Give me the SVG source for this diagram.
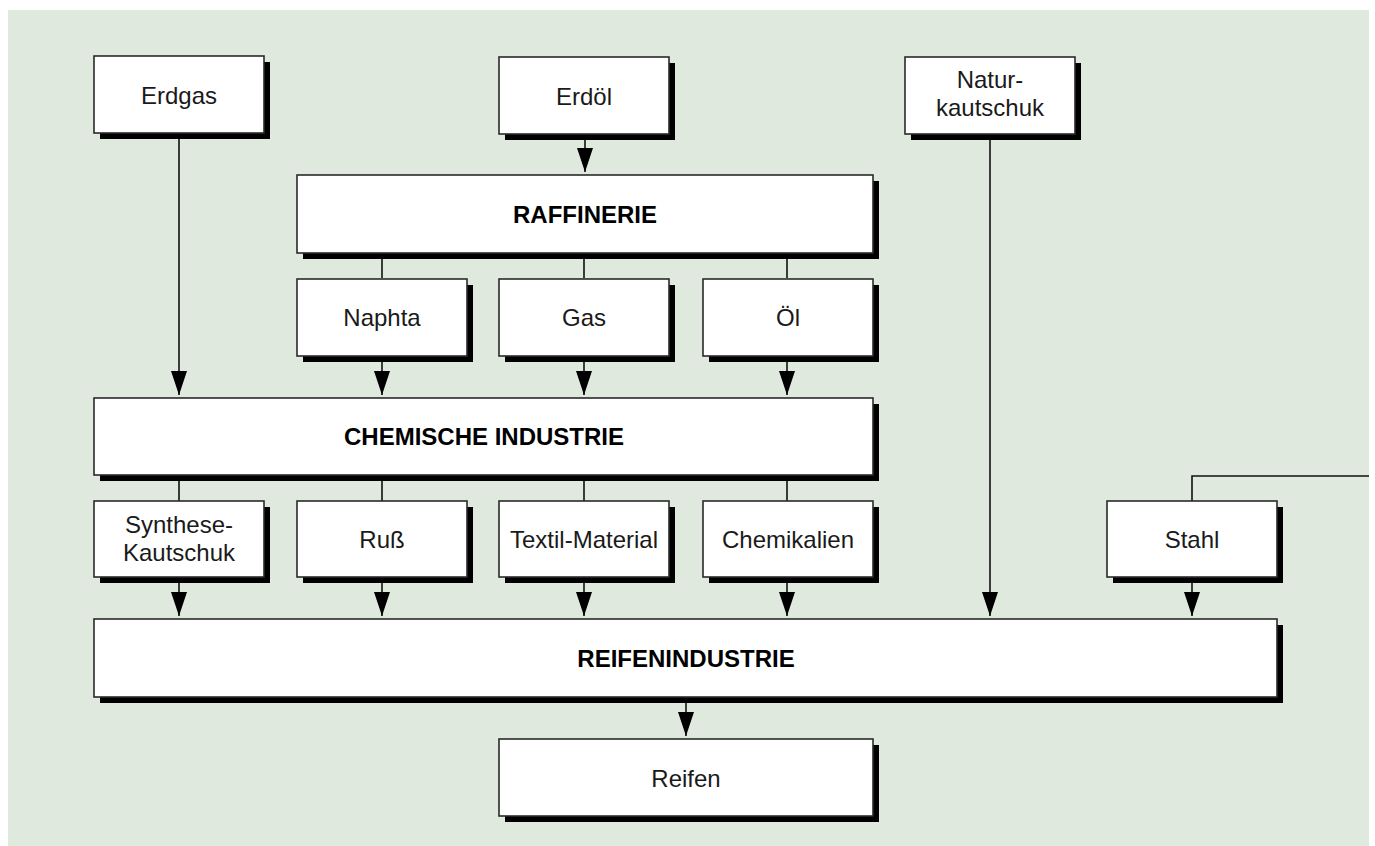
<svg xmlns="http://www.w3.org/2000/svg" width="1375" height="846" viewBox="0 0 1375 846">
<defs>
<style>
.shadow{fill:#000}
.box{fill:#fff;stroke:#2a2a2a;stroke-width:1.6}
.lbl{font-family:"Liberation Sans",Arial,sans-serif;font-size:24px;fill:#1a1a1a;text-anchor:middle}
.bold{font-weight:bold;fill:#000}
.con{fill:none;stroke:#111;stroke-width:1.6}
</style>
<marker id="arr" viewBox="0 0 24 16" refX="24" refY="8" markerWidth="24" markerHeight="16" markerUnits="userSpaceOnUse" orient="auto">
<path d="M0,0 L24,8 L0,16 Z" fill="#000"/>
</marker>
</defs>
<rect x="0" y="0" width="1375" height="846" fill="#fff"/>
<rect x="8" y="10" width="1361" height="836" fill="#dfe9de"/>

<g id="connectors">
<path class="con" d="M179,139 V395" marker-end="url(#arr)"/>
<path class="con" d="M585,139 V172" marker-end="url(#arr)"/>
<path class="con" d="M990,139 V616" marker-end="url(#arr)"/>
<path class="con" d="M382,259 V278 M584,259 V278 M787,259 V278"/>
<path class="con" d="M382,362 V395" marker-end="url(#arr)"/>
<path class="con" d="M584,362 V395" marker-end="url(#arr)"/>
<path class="con" d="M787,362 V395" marker-end="url(#arr)"/>
<path class="con" d="M179,481 V501 M382,481 V501 M584,481 V501 M787,481 V501"/>
<path class="con" d="M179,583 V616" marker-end="url(#arr)"/>
<path class="con" d="M382,583 V616" marker-end="url(#arr)"/>
<path class="con" d="M584,583 V616" marker-end="url(#arr)"/>
<path class="con" d="M787,583 V616" marker-end="url(#arr)"/>
<path class="con" d="M1192,583 V616" marker-end="url(#arr)"/>
<path class="con" d="M1369,476 H1192 V501"/>
<path class="con" d="M686,703 V736" marker-end="url(#arr)"/>
</g>

<g id="erdgas">
<rect class="shadow" x="100" y="62" width="170" height="77"/>
<rect class="box" x="94" y="56" width="170" height="77"/>
<text class="lbl" x="179" y="104">Erdgas</text>
</g>
<g id="erdoel">
<rect class="shadow" x="505" y="63" width="170" height="77"/>
<rect class="box" x="499" y="57" width="170" height="77"/>
<text class="lbl" x="584" y="105">Erdöl</text>
</g>
<g id="naturkautschuk">
<rect class="shadow" x="911" y="63" width="170" height="77"/>
<rect class="box" x="905" y="57" width="170" height="77"/>
<text class="lbl" x="990" y="88">Natur-</text>
<text class="lbl" x="990" y="116">kautschuk</text>
</g>
<g id="raffinerie">
<rect class="shadow" x="303" y="181" width="576" height="78"/>
<rect class="box" x="297" y="175" width="576" height="78"/>
<text class="lbl bold" x="585" y="223">RAFFINERIE</text>
</g>
<g id="naphta">
<rect class="shadow" x="303" y="285" width="170" height="77"/>
<rect class="box" x="297" y="279" width="170" height="77"/>
<text class="lbl" x="382" y="326">Naphta</text>
</g>
<g id="gas">
<rect class="shadow" x="505" y="285" width="170" height="77"/>
<rect class="box" x="499" y="279" width="170" height="77"/>
<text class="lbl" x="584" y="326">Gas</text>
</g>
<g id="oel">
<rect class="shadow" x="709" y="285" width="170" height="77"/>
<rect class="box" x="703" y="279" width="170" height="77"/>
<text class="lbl" x="788" y="326">Öl</text>
</g>
<g id="chemische-industrie">
<rect class="shadow" x="100" y="404" width="779" height="77"/>
<rect class="box" x="94" y="398" width="779" height="77"/>
<text class="lbl bold" x="484" y="445">CHEMISCHE INDUSTRIE</text>
</g>
<g id="synthese-kautschuk">
<rect class="shadow" x="100" y="507" width="170" height="76"/>
<rect class="box" x="94" y="501" width="170" height="76"/>
<text class="lbl" x="179" y="533">Synthese-</text>
<text class="lbl" x="179" y="561">Kautschuk</text>
</g>
<g id="russ">
<rect class="shadow" x="303" y="507" width="170" height="76"/>
<rect class="box" x="297" y="501" width="170" height="76"/>
<text class="lbl" x="382" y="548">Ruß</text>
</g>
<g id="textil-material">
<rect class="shadow" x="505" y="507" width="170" height="76"/>
<rect class="box" x="499" y="501" width="170" height="76"/>
<text class="lbl" x="584" y="548">Textil-Material</text>
</g>
<g id="chemikalien">
<rect class="shadow" x="709" y="507" width="170" height="76"/>
<rect class="box" x="703" y="501" width="170" height="76"/>
<text class="lbl" x="788" y="548">Chemikalien</text>
</g>
<g id="stahl">
<rect class="shadow" x="1113" y="507" width="170" height="76"/>
<rect class="box" x="1107" y="501" width="170" height="76"/>
<text class="lbl" x="1192" y="548">Stahl</text>
</g>
<g id="reifenindustrie">
<rect class="shadow" x="100" y="625" width="1183" height="78"/>
<rect class="box" x="94" y="619" width="1183" height="78"/>
<text class="lbl bold" x="686" y="667">REIFENINDUSTRIE</text>
</g>
<g id="reifen">
<rect class="shadow" x="505" y="745" width="374" height="77"/>
<rect class="box" x="499" y="739" width="374" height="77"/>
<text class="lbl" x="686" y="787">Reifen</text>
</g>
</svg>
